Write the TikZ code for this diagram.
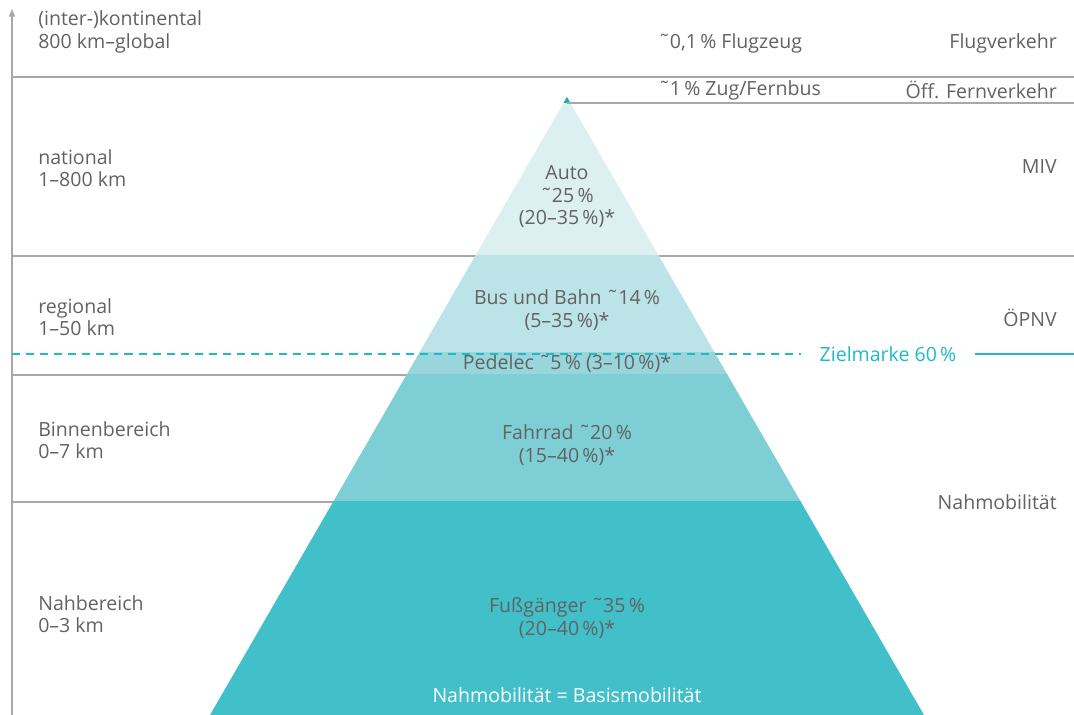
\documentclass[tikz,border=0pt]{standalone}
\usepackage{fontspec}
\setmainfont{Open Sans}
\usetikzlibrary{arrows.meta}

\definecolor{txtgray}{HTML}{626262}
\definecolor{linegray}{HTML}{A8A8A8}
\definecolor{goalteal}{HTML}{1FBAC6}
\definecolor{autofill}{HTML}{DCF0F2}
\definecolor{busfill}{HTML}{BCE3E8}
\definecolor{pedfill}{HTML}{98D6DC}
\definecolor{radfill}{HTML}{7ECFD5}
\definecolor{footfill}{HTML}{42C0CA}
\definecolor{tipfill}{HTML}{17A9B5}

\newcommand{\diafont}{\fontsize{13.9}{16}\selectfont}

\begin{document}
\begin{tikzpicture}[x=0.025cm, y=-0.025cm,
  % Text Styles
  rangetext/.style={anchor=west, align=left, text=txtgray, font=\diafont, inner sep=0pt},
  modetext/.style={anchor=east, align=right, text=txtgray, font=\diafont, inner sep=0pt},
  sharetext/.style={align=center, text=txtgray, font=\diafont, inner sep=0pt},
  % Line Styles
  bandline/.style={draw=linegray, line width=0.9pt},
  goalline/.style={draw=goalteal, line width=0.9pt}
]
\useasboundingbox (0,0) rectangle (1074,715);

% Grid lines (behind the pyramid)
\draw[bandline] (12,77) -- (1074,77);
\draw[bandline] (12,256) -- (1074,256);
\draw[bandline] (12,375) -- (567,375);
\draw[bandline] (12,502) -- (567,502);

% Pyramid
\coordinate (apex) at (567,97);
\coordinate (baseL) at (210,715);
\coordinate (baseR) at (924,715);
\foreach \ytop/\ybot/\col in {97/256/autofill, 256/353/busfill, 353/375/pedfill, 375/502/radfill, 502/715/footfill, 97/103/tipfill}{
  \begin{scope}
    \clip (0,\ytop) rectangle (1074,\ybot);
    \fill[\col] (apex) -- (baseL) -- (baseR) -- cycle;
  \end{scope}
}
\draw[bandline] (567,103) -- (1074,103);

% Axis
\coordinate (axisfoot) at (12,715);
\coordinate (axistop) at (12,9);
\draw[linegray, line width=0.9pt, -{Triangle[width=4.5pt,length=5.5pt]}] (axisfoot) -- (axistop);

% Distance ranges
\node[rangetext] (kont) at (38,32) {(inter-)kontinental\\800 km--global};
\node[rangetext] (nat) at (38,168) {national\\1--800 km};
\node[rangetext] (reg) at (38,317) {regional\\1--50 km};
\node[rangetext] (binnen) at (38,440) {Binnenbereich\\0--7 km};
\node[rangetext] (nah) at (38,614) {Nahbereich\\0--3 km};

% Traffic types
\node[modetext] (flug) at (1057,43) {Flugverkehr};
\node[modetext] (fern) at (1057,90) {Öff. Fernverkehr};
\node[modetext] (miv) at (1057,167) {MIV};
\node[modetext] (opnv) at (1057,318) {ÖPNV};
\node[modetext] (nahmob) at (1057,502) {Nahmobilität};

% Shares
\node[rangetext] (flugzeug) at (658,43) {˜0,1\,\% Flugzeug};
\node[rangetext] (zug) at (658,90) {˜1\,\% Zug/Fernbus};
\node[sharetext] (auto) at (567,197) {Auto\\˜25\,\%\\(20--35\,\%)*};
\node[sharetext] (bus) at (567,310) {Bus und Bahn ˜14\,\%\\(5--35\,\%)*};
\node[sharetext] (pedelec) at (567,364) {Pedelec ˜5\,\% (3--10\,\%)*};
\node[sharetext] (rad) at (567,445) {Fahrrad ˜20\,\%\\(15--40\,\%)*};
\node[sharetext] (fuss) at (567,618) {Fußgänger ˜35\,\%\\(20--40\,\%)*};
\node[sharetext, text=white] (basis) at (567,695) {Nahmobilität = Basismobilität};

% Goal mark
\node[rangetext, anchor=center, text=goalteal, inner xsep=13pt] (ziel) at (888,354) {Zielmarke 60\,\%};
\coordinate (goalstart) at (12,354);
\coordinate (goalend) at (1074,354);
\draw[goalline, dash pattern=on 5.7pt off 4.3pt] (goalstart) -- (ziel.west);
\draw[goalline] (ziel.east) -- (goalend);

\end{tikzpicture}
\end{document}
